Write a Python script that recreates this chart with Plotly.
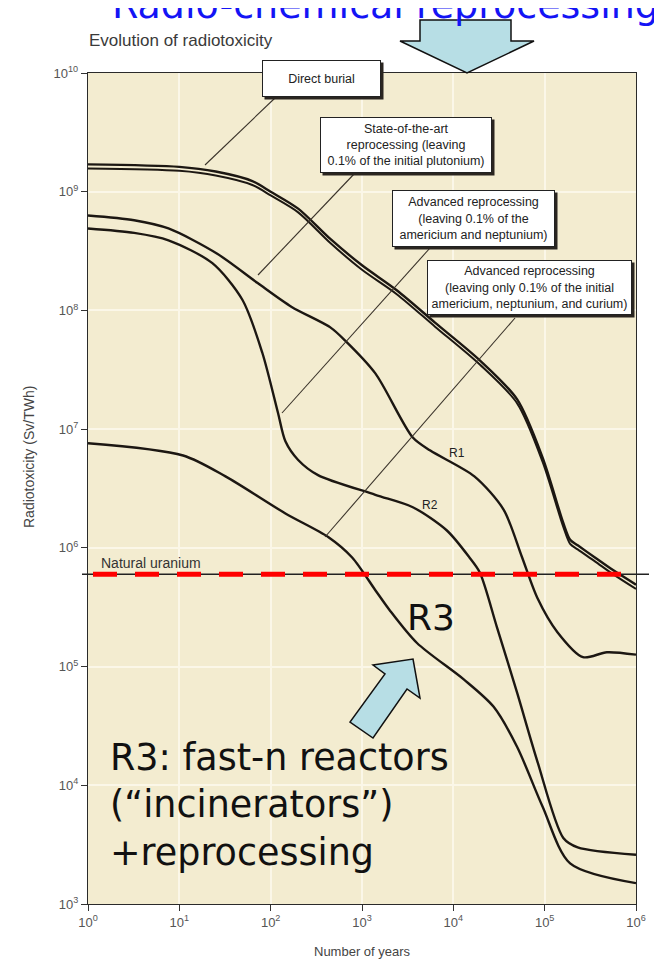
import math
import plotly.graph_objects as go

# ---------------- data ----------------
years_top = [1, 10, 25, 63, 100, 200, 450, 1000, 2400, 6300, 19500, 50000, 95000,
             160000, 190000, 230000, 355000, 560000, 1000000]
direct_burial = [1.7e9, 1.62e9, 1.48e9, 1.23e9, 1.0e9, 7.2e8, 4.0e8, 2.4e8, 1.48e8, 7.9e7,
                 3.8e7, 1.78e7, 5.75e6, 1.62e6, 1.17e6, 1.05e6, 8.3e5, 6.5e5, 4.9e5]
state_of_art = [1.57e9, 1.5e9, 1.37e9, 1.14e9, 9.3e8, 6.7e8, 3.7e8, 2.2e8, 1.37e8, 7.3e7,
                3.5e7, 1.65e7, 5.3e6, 1.5e6, 1.08e6, 9.7e5, 7.7e5, 6.0e5, 4.5e5]

years_r1 = [1, 3.2, 7.6, 26, 72, 170, 450, 650, 1400, 3600, 5600, 17000, 35500, 56000,
            83000, 138000, 263000, 480000, 1000000]
values_r1 = [6.3e8, 5.75e8, 4.9e8, 3.0e8, 1.7e8, 1.07e8, 7.2e7, 5.6e7, 2.95e7, 8.5e6, 6.6e6,
             4.0e6, 2.1e6, 8.5e5, 3.8e5, 1.95e5, 1.2e5, 1.32e5, 1.26e5]

years_r2 = [1, 3.2, 7.6, 23, 49, 81, 120, 145, 200, 330, 1400, 3600, 8500, 15000, 19500,
            30000, 50000, 83000, 160000, 230000, 1000000]
values_r2 = [4.9e8, 4.5e8, 3.9e8, 2.5e8, 1.23e8, 4.4e7, 1.38e7, 7.9e6, 5.5e6, 4.1e6, 2.8e6,
             2.2e6, 1.4e6, 8.3e5, 6.2e5, 2.15e5, 6.0e4, 1.6e4, 3.6e3, 3.0e3, 2.6e3]

years_r3 = [1, 11, 32, 145, 430, 780, 1400, 2000, 4000, 13000, 27500, 50000, 95000,
            190000, 1000000]
values_r3 = [7.6e6, 6.0e6, 4.0e6, 1.95e6, 1.23e6, 8.3e5, 4.4e5, 3.0e5, 1.58e5, 7.8e4, 4.6e4,
             2.1e4, 6.6e3, 2.2e3, 1.5e3]

natural_uranium = 6.0e5

x_tickvals = [1, 10, 100, 1000, 10000, 100000, 1000000]
x_ticktext = ["10<sup>0</sup>", "10<sup>1</sup>", "10<sup>2</sup>", "10<sup>3</sup>",
              "10<sup>4</sup>", "10<sup>5</sup>", "10<sup>6</sup>"]
y_tickvals = [1e3, 1e4, 1e5, 1e6, 1e7, 1e8, 1e9, 1e10]
y_ticktext = ["10<sup>3</sup>", "10<sup>4</sup>", "10<sup>5</sup>", "10<sup>6</sup>",
              "10<sup>7</sup>", "10<sup>8</sup>", "10<sup>9</sup>", "10<sup>10</sup>"]

# ---------------- layout geometry ----------------
# the page body adds an 8px margin around the figure
OFF = 8
W, H = 654, 953
L, T = 80, 65
PW, PH = 548, 831
R, B = W - L - PW, H - T - PH
Y_MIN, Y_MAX = 3, 10


def px(x):
    """reference-page x pixel -> paper x"""
    return (x - OFF - L) / PW


def py(y):
    """reference-page y pixel -> paper y"""
    return 1 - (y - OFF - T) / PH


def yval(v):
    return (math.log10(v) - Y_MIN) / (Y_MAX - Y_MIN)


CURVE = "#1c1712"
fig = go.Figure()
for xs, ys, name, w in [
    (years_top, direct_burial, "Direct burial", 2.4),
    (years_top, state_of_art, "State-of-the-art reprocessing", 2.0),
    (years_r1, values_r1, "R1", 2.4),
    (years_r2, values_r2, "R2", 2.4),
    (years_r3, values_r3, "R3", 2.4),
]:
    fig.add_trace(go.Scatter(x=xs, y=ys, mode="lines", name=name,
                             line=dict(color=CURVE, width=w, shape="spline", smoothing=0.8),
                             hoverinfo="skip", showlegend=False))

shapes = []
# pointer lines from label boxes to curves
for (x0, y0, x1, y1) in [(275, 98, 205, 165), (355, 173, 258, 275),
                         (430, 248, 282, 413), (515, 318, 325, 537)]:
    shapes.append(dict(type="line", xref="paper", yref="paper",
                       x0=px(x0), y0=py(y0), x1=px(x1), y1=py(y1),
                       line=dict(color="#3a332a", width=1.1), layer="above"))

# natural uranium reference lines
shapes.append(dict(type="line", xref="paper", yref="paper",
                   x0=px(82), x1=px(649), y0=yval(natural_uranium), y1=yval(natural_uranium),
                   line=dict(color="#222", width=1.5), layer="above"))
shapes.append(dict(type="line", xref="paper", yref="paper",
                   x0=px(93), x1=px(623), y0=yval(natural_uranium), y1=yval(natural_uranium),
                   line=dict(color="#ff0000", width=5, dash="24px,18px"), layer="above"))

# label boxes (with shadow)
boxes = [
    ("Direct burial", 321.5, 78.5, 119, 37),
    ("State-of-the-art<br>reprocessing (leaving<br>0.1% of the initial plutonium)", 406, 145, 172, 56),
    ("Advanced reprocessing<br>(leaving 0.1% of the<br>americium and neptunium)", 473.5, 218.5, 163, 57),
    ("Advanced reprocessing<br>(leaving only 0.1% of the initial<br>americium, neptunium, and curium)",
     529.5, 287.5, 205, 55),
]
annotations = []
for text, cx, cy, bw, bh in boxes:
    shapes.append(dict(type="rect", xref="paper", yref="paper",
                       x0=px(cx - bw / 2 + 2.5), x1=px(cx + bw / 2 + 2.5),
                       y0=py(cy + bh / 2 + 2.5), y1=py(cy - bh / 2 + 2.5),
                       fillcolor="#2a2520", line=dict(width=0), layer="above"))
    annotations.append(dict(text=text, xref="paper", yref="paper", x=px(cx), y=py(cy),
                            xanchor="center", yanchor="middle", showarrow=False,
                            width=bw - 4, height=bh - 4, align="center", valign="middle",
                            bgcolor="white", bordercolor="#222", borderwidth=1, borderpad=1,
                            font=dict(family="Liberation Sans, Arial", size=12.5, color="#222")))


def poly(points):
    return "M " + " L ".join(f"{px(a):.5f},{py(b):.5f}" for a, b in points) + " Z"


ARROW_FILL = "#b7dee5"
# top down arrow
shapes.append(dict(type="path", xref="paper", yref="paper",
                   path=poly([(420, 20), (511, 20), (511, 41), (534, 41), (467, 73),
                              (400, 41), (420, 41)]),
                   fillcolor=ARROW_FILL, line=dict(color="#111", width=1.5), layer="above"))
# arrow pointing at R3 curve
shapes.append(dict(type="path", xref="paper", yref="paper",
                   path=poly([(413, 659), (420, 698), (407, 689), (373, 738), (350, 722),
                              (385, 674), (373, 665)]),
                   fillcolor=ARROW_FILL, line=dict(color="#111", width=1.5), layer="above"))

GREY = "#444"
annotations += [
    dict(text="Radio-chemical reprocessing", xref="paper", yref="paper", x=px(385), y=py(29),
         xanchor="center", yanchor="bottom", showarrow=False,
         font=dict(family="DejaVu Sans, Verdana", size=38, color="#1414f5")),
    dict(text="Evolution of radiotoxicity", xref="paper", yref="paper", x=px(87), y=py(41),
         xanchor="left", yanchor="middle", showarrow=False,
         font=dict(family="Liberation Sans, Arial", size=17, color="#3a3a3a")),
    dict(text="Radiotoxicity (Sv/TWh)", xref="paper", yref="paper", x=px(29), y=py(457),
         xanchor="center", yanchor="middle", textangle=-90, showarrow=False,
         font=dict(family="Liberation Sans, Arial", size=14, color=GREY)),
    dict(text="Number of years", xref="paper", yref="paper", x=px(362), y=py(951),
         xanchor="center", yanchor="middle", showarrow=False,
         font=dict(family="Liberation Sans, Arial", size=13, color=GREY)),
    dict(text="Natural uranium", xref="paper", yref="paper", x=px(99), y=py(563),
         xanchor="left", yanchor="middle", showarrow=False,
         font=dict(family="Liberation Sans, Arial", size=14, color="#333")),
    dict(text="R1", xref="paper", yref="paper", x=px(457), y=py(453),
         xanchor="center", yanchor="middle", showarrow=False,
         font=dict(family="Liberation Sans, Arial", size=12, color="#222")),
    dict(text="R2", xref="paper", yref="paper", x=px(430), y=py(505),
         xanchor="center", yanchor="middle", showarrow=False,
         font=dict(family="Liberation Sans, Arial", size=12, color="#222")),
    dict(text="R3", xref="paper", yref="paper", x=px(405), y=py(617),
         xanchor="left", yanchor="middle", showarrow=False,
         font=dict(family="DejaVu Sans, Verdana", size=36, color="#111")),
    dict(text="R3: fast-n reactors<br>(\u201cincinerators\u201d)<br>+reprocessing",
         xref="paper", yref="paper", x=px(108), y=py(734),
         xanchor="left", yanchor="top", align="left", showarrow=False,
         font=dict(family="DejaVu Sans, Verdana", size=36.5, color="#111")),
]

axis_common = dict(type="log", showline=True, linecolor="#2a2a2a", linewidth=1.4, mirror=True,
                   ticks="outside", ticklen=6, tickcolor="#333", tickwidth=1.2,
                   showgrid=True, gridcolor="#fbf7e8", gridwidth=1.6, zeroline=False,
                   tickfont=dict(family="Liberation Sans, Arial", size=13, color="#555"))

fig.update_layout(
    width=W, height=H, margin=dict(l=L, r=R, t=T, b=B),
    paper_bgcolor="white", plot_bgcolor="#f3ecd0",
    xaxis=dict(range=[0, 6], tickvals=x_tickvals, ticktext=x_ticktext, **axis_common),
    yaxis=dict(range=[Y_MIN, Y_MAX], tickvals=y_tickvals, ticktext=y_ticktext, **axis_common),
    shapes=shapes, annotations=annotations, showlegend=False,
)

fig.write_html("out.html")
